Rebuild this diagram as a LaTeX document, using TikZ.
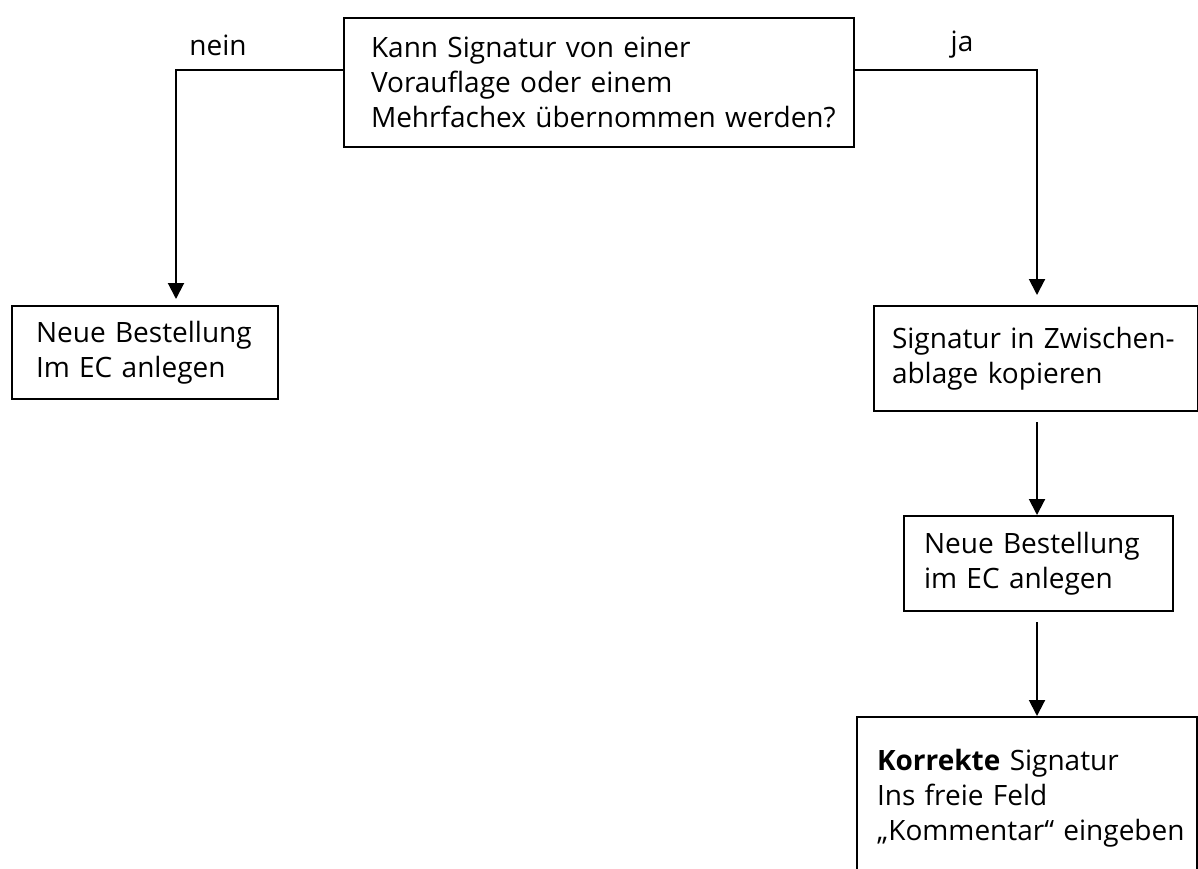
\documentclass[tikz,border=0pt]{standalone}
\usepackage{fontspec}
\setmainfont{Open Sans}
\usetikzlibrary{arrows.meta}
\begin{document}
\begin{tikzpicture}[x=0.5pt, y=-0.5pt,
	box/.style={draw, line width=1pt, anchor=north west, align=left, inner xsep=4pt, font=\fontsize{14}{17.5}\selectfont},
	pad/.style={execute at begin node={\leftskip=#1}},
	label/.style={font=\fontsize{14}{17.5}\selectfont},
	arr/.style={line width=1pt, -{Triangle[width=8pt,length=8pt]}}]
	\useasboundingbox (0, 0) rectangle (1198, 868);
	\clip (0, 0) rectangle (1198, 868);

	% frage oben
	\node[box, pad=9.5pt, text width=247pt, minimum height=64.5pt] (frage) at (343, 17)
		{Kann Signatur von einer\\Vorauflage oder einem\\Mehrfachex übernommen werden?};
	\node[label] (nein) at (218, 45) {nein};
	\node[label] (ja) at (962, 45) {ja};

	% linker zweig
	\node[box, pad=8pt, text width=125pt, minimum height=46.5pt] (neu) at (11, 305)
		{Neue Bestellung\\Im EC anlegen};

	% rechter zweig
	\node[box, pad=5pt, text width=154pt, minimum height=52.5pt] (ablage) at (873, 305)
		{Signatur in Zwischen-\\ablage kopieren};
	\node[box, pad=6pt, text width=126.5pt, minimum height=47.5pt] (bestellung) at (903, 515)
		{Neue Bestellung\\im EC anlegen};
	\node[box, pad=6pt, text width=162pt, minimum height=81pt] (kommentar) at (856, 716)
		{\textbf{Korrekte} Signatur\\Ins freie Feld\\„Kommentar“ eingeben};

	\coordinate (nk) at (176, 70);
	\coordinate (jk) at (1037, 70);
	\draw[arr, shorten >=3pt] (frage.west |- nk) -- (nk) -- (nk |- neu.north);
	\draw[arr, shorten >=5pt] (frage.east |- jk) -- (jk) -- (jk |- ablage.north);
	\draw[arr, shorten <=5pt] (jk |- ablage.south) -- (jk |- bestellung.north);
	\draw[arr, shorten <=5pt] (jk |- bestellung.south) -- (jk |- kommentar.north);

\end{tikzpicture}
\end{document}
